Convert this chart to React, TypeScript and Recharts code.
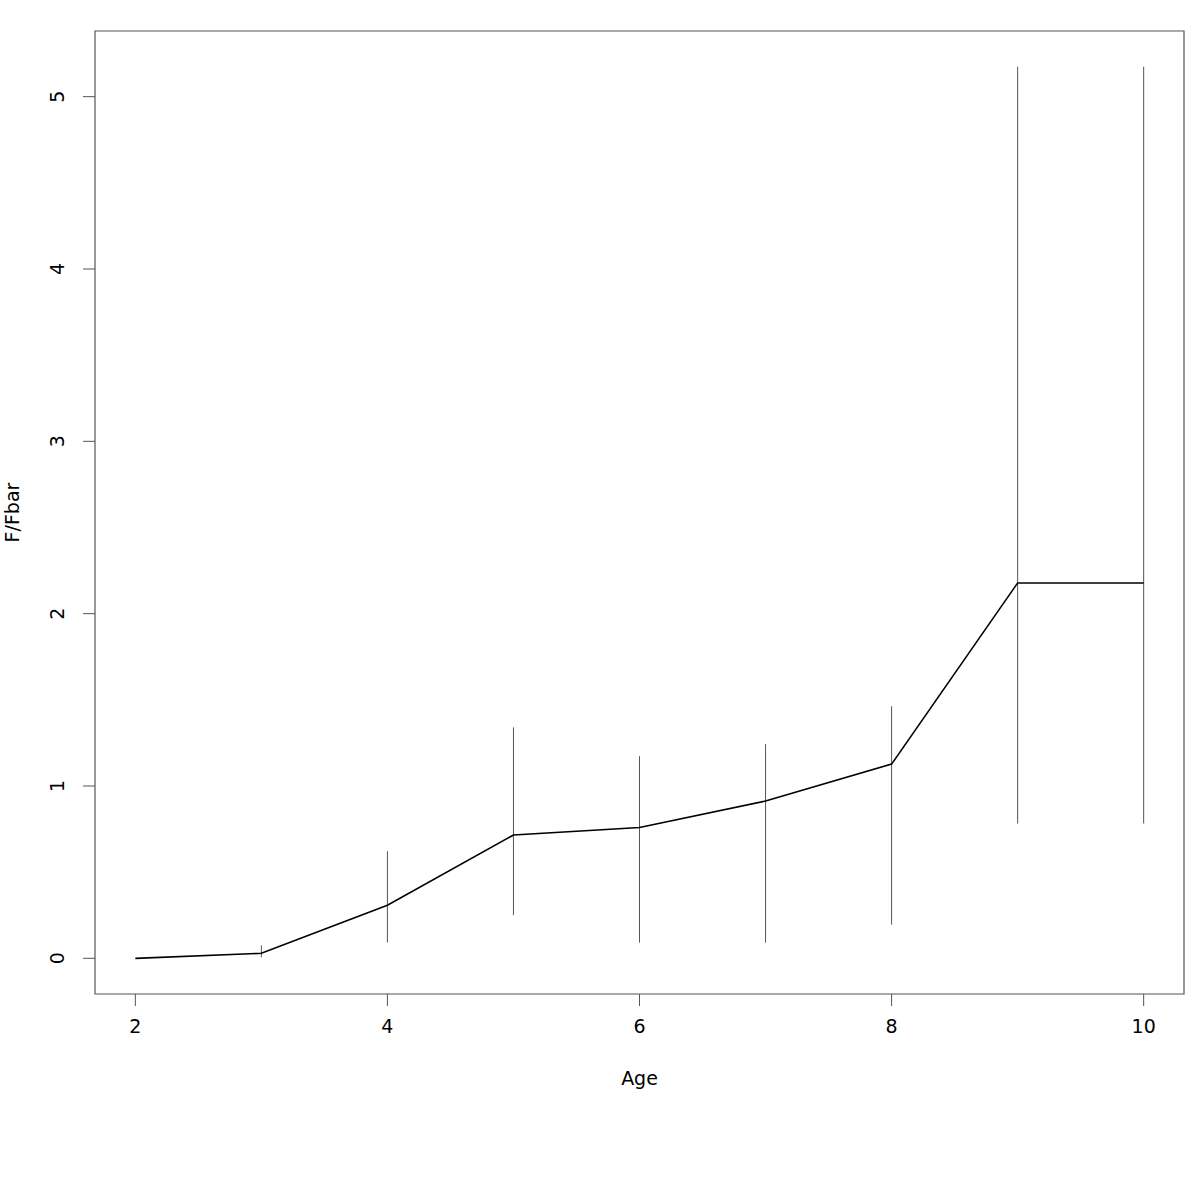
import { ComposedChart, Line, XAxis, YAxis, ReferenceLine, ReferenceArea, Label } from 'recharts';

const ages = [2, 3, 4, 5, 6, 7, 8, 9, 10];
const fRatio = [0, 0.029, 0.308, 0.716, 0.759, 0.913, 1.127, 2.178, 2.178];
const lower = [null, 0.006, 0.092, 0.25, 0.091, 0.091, 0.196, 0.782, 0.782];
const upper = [null, 0.075, 0.621, 1.34, 1.173, 1.243, 1.463, 5.174, 5.174];
const xTicks = [2, 4, 6, 8, 10];
const yTicks = [0, 1, 2, 3, 4, 5];

const data = ages.map((age, i) => ({ age, ff: fRatio[i] }));

const X_DOMAIN: [number, number] = [1.68, 10.32];
const Y_DOMAIN: [number, number] = [-0.207, 5.381];
const FONT = '"DejaVu Sans", sans-serif';
const FS = 19;
const GREY = '#555555';

const XTick = (props: any) => (
    <text x={props.x} y={props.y + 25} textAnchor="middle" fontSize={FS} fontFamily={FONT} fill="#000">
        {props.payload.value}
    </text>
);

const YTick = (props: any) => {
    const bx = props.x - 17;
    return (
        <text x={bx} y={props.y} textAnchor="middle" fontSize={FS} fontFamily={FONT} fill="#000"
            transform={`rotate(-90, ${bx}, ${props.y})`}>
            {props.payload.value}
        </text>
    );
};

const App = () => {
    return (
        <div style={{ position: 'absolute', left: 0, top: 0, width: 1200, height: 1200, background: '#fff' }}>
            <ComposedChart width={1200} height={1200} data={data} margin={{ top: 31, right: 16, left: 0, bottom: 106 }}>
                <XAxis
                    dataKey="age"
                    type="number"
                    domain={X_DOMAIN}
                    ticks={xTicks}
                    allowDataOverflow
                    height={100}
                    axisLine={false}
                    tickSize={12}
                    tickLine={{ stroke: GREY }}
                    tick={XTick}
                >
                    <Label
                        content={(p: any) => (
                            <text x={p.viewBox.x + p.viewBox.width / 2} y={1085} textAnchor="middle" fontSize={FS} fontFamily={FONT} fill="#000">
                                Age
                            </text>
                        )}
                    />
                </XAxis>
                <YAxis
                    type="number"
                    domain={Y_DOMAIN}
                    ticks={yTicks}
                    allowDataOverflow
                    width={95}
                    axisLine={false}
                    tickSize={12}
                    tickLine={{ stroke: GREY }}
                    tick={YTick}
                >
                    <Label
                        content={(p: any) => {
                            const cy = p.viewBox.y + p.viewBox.height / 2;
                            return (
                                <text x={19} y={cy} textAnchor="middle" fontSize={FS} fontFamily={FONT} fill="#000"
                                    transform={`rotate(-90, 19, ${cy})`}>
                                    F/Fbar
                                </text>
                            );
                        }}
                    />
                </YAxis>
                <ReferenceArea
                    x1={X_DOMAIN[0]} x2={X_DOMAIN[1]} y1={Y_DOMAIN[0]} y2={Y_DOMAIN[1]}
                    fill="none" stroke={GREY} strokeWidth={1.2} ifOverflow="visible"
                />
                {ages.map((age, i) =>
                    lower[i] == null ? null : (
                        <ReferenceLine
                            key={age}
                            segment={[{ x: age, y: lower[i] as number }, { x: age, y: upper[i] as number }]}
                            stroke={GREY}
                            strokeWidth={1}
                            ifOverflow="visible"
                        />
                    )
                )}
                <Line
                    dataKey="ff"
                    type="linear"
                    stroke="#000"
                    strokeWidth={1.6}
                    dot={false}
                    isAnimationActive={false}
                />
            </ComposedChart>
        </div>
    );
};

export default App;
